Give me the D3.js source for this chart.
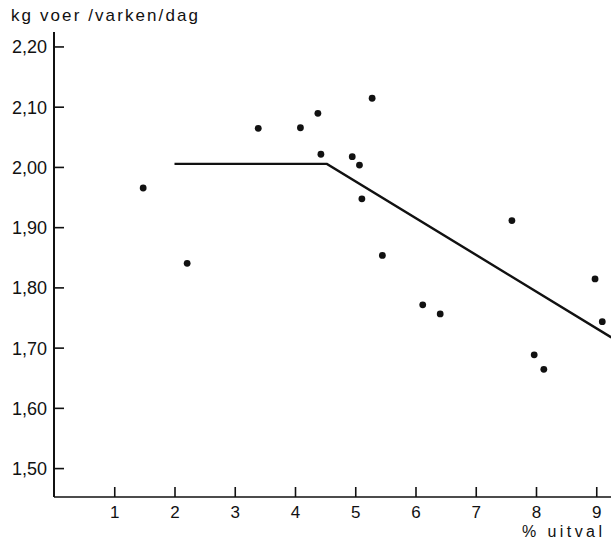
<!DOCTYPE html>
<html>
<head>
<meta charset="utf-8">
<script src="https://cdn.jsdelivr.net/npm/d3@7"></script>
<style>
  body { margin: 0; background: #fff; }
  text { font-family: "Liberation Sans", Arial, sans-serif; fill: #111; }
</style>
</head>
<body>
<div id="chart"></div>
<script>
const width = 611,
      height = 541,
      margin = { top: 32, right: 0, bottom: 44, left: 54 };

// % uitval vs kg voer per varken per dag
const uitval = [1.48, 2.21, 3.39, 4.09, 4.38, 4.43, 4.95, 5.07, 5.28, 5.11, 5.45, 6.12, 6.41, 7.60, 7.97, 8.13, 8.98, 9.10],
      voer   = [1.965, 1.840, 2.064, 2.065, 2.089, 2.021, 2.017, 2.003, 2.114, 1.947, 1.853, 1.771, 1.756, 1.911, 1.688, 1.664, 1.814, 1.743];

// broken-line fit
const fitX = [2.0, 4.53, 9.25],
      fitY = [2.005, 2.005, 1.717];

const xTicks = [1, 2, 3, 4, 5, 6, 7, 8, 9],
      yTicks = [1.5, 1.6, 1.7, 1.8, 1.9, 2.0, 2.1, 2.2];

const svg = d3.select('#chart').append('svg')
    .attr('width', width)
    .attr('height', height);

const xScale = d3.scaleLinear()
    .domain([0, 9.25])
    .range([margin.left, margin.left + 9.25 * 60.25]);

const yScale = d3.scaleLinear()
    .domain([1.452, 2.224])
    .range([height - margin.bottom, margin.top]);

const fmt = d => d3.format('.2f')(d).replace('.', ',');

// y axis
const yAxis = svg.append('g')
    .attr('transform', `translate(${xScale(0)},0)`)
    .call(d3.axisLeft(yScale).tickValues(yTicks).tickSize(-10).tickPadding(7).tickFormat(fmt));
yAxis.select('.domain').attr('d', `M0,${yScale(1.452)}V${yScale(2.224)}`).attr('stroke-width', 2);
yAxis.selectAll('.tick line').attr('stroke-width', 1.6);
yAxis.selectAll('.tick text').attr('font-size', 18).attr('dy', '0.36em');

// x axis
const xAxis = svg.append('g')
    .attr('transform', `translate(0,${yScale(1.452)})`)
    .call(d3.axisBottom(xScale).tickValues(xTicks).tickSize(-10).tickPadding(9));
xAxis.select('.domain').attr('d', `M${xScale(0)},0H${width}`).attr('stroke-width', 1.6);
xAxis.selectAll('.tick line').attr('stroke-width', 1.6);
xAxis.selectAll('.tick text').attr('font-size', 17).attr('dy', '0.71em');

svg.selectAll('.domain, .tick line').attr('stroke', '#111');
svg.selectAll('.tick text').style('fill', '#111').attr('font-family', '"Liberation Sans", Arial, sans-serif');

// fitted line
const line = d3.line()
    .x(d => xScale(d[0]))
    .y(d => yScale(d[1]));

svg.append('path')
    .datum(d3.zip(fitX, fitY))
    .attr('d', line)
    .attr('fill', 'none')
    .attr('stroke', '#111')
    .attr('stroke-width', 2.4);

// points
svg.selectAll('.dot')
    .data(d3.zip(uitval, voer))
    .enter().append('circle')
      .attr('class', 'dot')
      .attr('cx', d => xScale(d[0]))
      .attr('cy', d => yScale(d[1]))
      .attr('r', 3.4)
      .attr('fill', '#111');

// titles
svg.append('text')
    .attr('x', 11)
    .attr('y', 21)
    .attr('font-size', 17)
    .attr('textLength', 187)
    .attr('lengthAdjust', 'spacing')
    .text('kg voer /varken/dag');

svg.append('text')
    .attr('x', 602)
    .attr('y', 537)
    .attr('text-anchor', 'end')
    .attr('font-size', 16)
    .attr('textLength', 80)
    .attr('lengthAdjust', 'spacing')
    .text('% uitval');
</script>
</body>
</html>
